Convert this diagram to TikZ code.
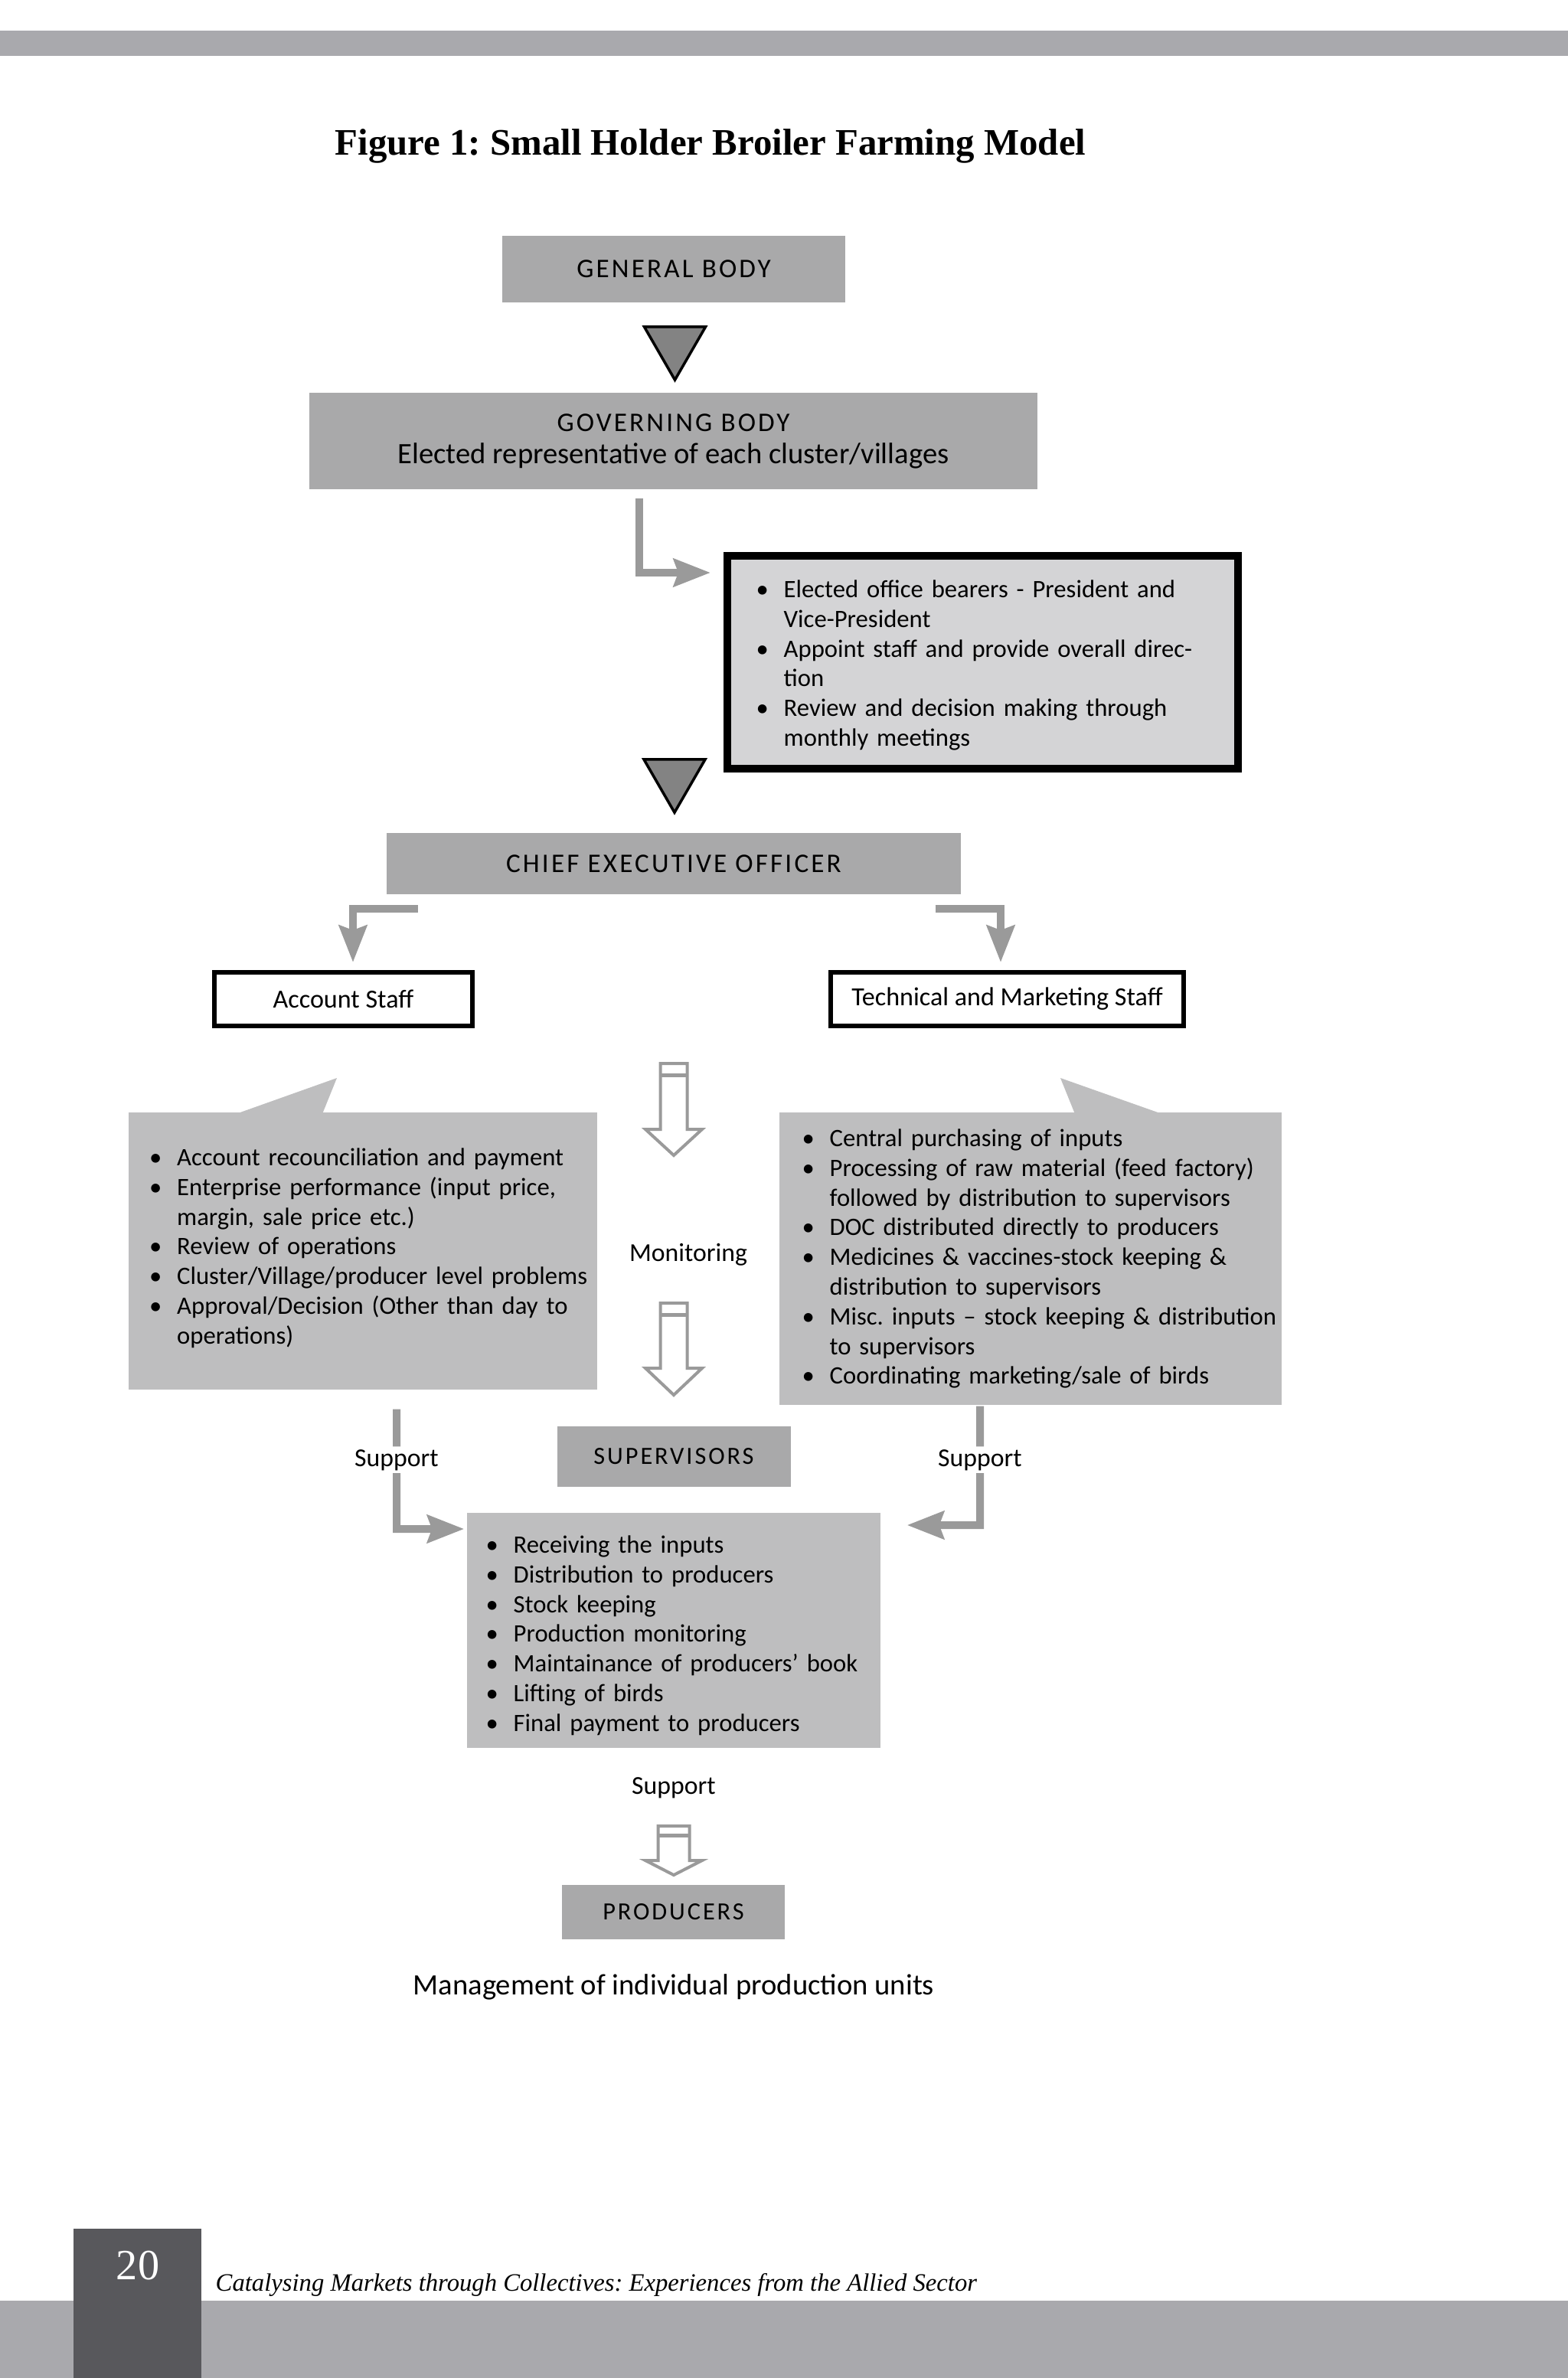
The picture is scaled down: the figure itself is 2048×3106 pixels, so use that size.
\documentclass[tikz,border=0pt]{standalone}
\usepackage{fontspec}
\setmainfont{Carlito}
\newfontfamily\capsfont[LetterSpace=9]{Carlito}
\newfontfamily\bookfont{Liberation Serif}
\usetikzlibrary{shapes.geometric, arrows.meta}

\definecolor{headgray}{HTML}{A9A9AA}
\definecolor{listgray}{HTML}{BEBEBF}
\definecolor{dutygray}{HTML}{D4D4D6}
\definecolor{linkgray}{HTML}{9A9A9A}
\definecolor{trigray}{HTML}{838383}
\definecolor{bandgray}{HTML}{A9A9AD}
\definecolor{pagegray}{HTML}{58585C}

% one bullet point, continuation lines hang under the text
\newcommand{\bitem}[1]{\noindent\hangindent=3.8mm\hangafter=1\makebox[3.8mm][l]{\hspace{1mm}\makebox[0pt]{\textbullet}}\strut#1\par}

\tikzset{
  headbox/.style={fill=headgray, inner sep=0pt, font=\capsfont\fontsize{10}{10.5}\selectfont},
  smallhead/.style={headbox, font=\capsfont\fontsize{9.2}{10}\selectfont},
  staffbox/.style={draw=black, line width=0.6mm, fill=white, inner sep=0pt, minimum height=7mm, font=\fontsize{9.7}{11}\selectfont},
  listbox/.style={fill=listgray, inner sep=0pt},
  listtext/.style={anchor=north west, inner sep=0pt, text width=6.5cm, align=left, font=\fontsize{9.3}{11.03}\selectfont},
  plain/.style={inner sep=0.3mm, font=\fontsize{9.6}{11}\selectfont},
  tri/.style={regular polygon, regular polygon sides=3, shape border rotate=180, minimum size=9.24mm, inner sep=0pt, fill=trigray, draw=black, line width=0.35mm},
  link/.style={draw=linkgray, line width=1mm, -{Stealth[length=4.8mm, width=3.6mm, inset=0.6mm]}},
  hollow/.style={draw=linkgray, line width=0.4mm, fill=white}
}

\begin{document}
\frenchspacing
\begin{tikzpicture}[x=0.1mm, y=-0.1mm]
  \useasboundingbox (0,0) rectangle (2048,3106);

  % page bands
  \fill[bandgray] (0,40) rectangle (2048,73);
  \fill[bandgray] (0,3005) rectangle (2048,3106);
  \fill[pagegray] (96,2911) rectangle (263,3106);

  \node[anchor=base west, inner sep=0pt, font=\bookfont\bfseries\fontsize{13.9}{16}\selectfont] (title) at (437,202) {Figure 1: Small Holder Broiler Farming Model};

  % Node positions
  \node[headbox, minimum width=44.8mm, minimum height=8.7mm] (genbody) at (880,351.5) {GENERAL BODY};
  \node[tri] (tri1) at (881.5,450) {};
  \node[headbox, minimum width=95.1mm, minimum height=12.6mm, align=center] (gov) at (879.5,576) {GOVERNING BODY\\[0.5mm]{\rmfamily\fontsize{11}{10.5}\selectfont Elected representative of each cluster/villages}};

  \node[draw=black, line width=1mm, fill=dutygray, minimum width=66.7mm, minimum height=27.8mm, inner sep=0pt] (duties) at (1283.5,865) {};
  \node[listtext] (dutiestext) at (985,752.8) {%
    \bitem{Elected office bearers - President and\newline Vice-President}
    \bitem{Appoint staff and provide overall direc-\newline tion}
    \bitem{Review and decision making through\newline monthly meetings}};

  \node[tri] (tri2) at (881,1015) {};
  \node[headbox, minimum width=75mm, minimum height=8mm] (ceo) at (880,1128) {CHIEF EXECUTIVE OFFICER};

  \node[staffbox, minimum width=33.7mm] (acct) at (448.5,1305) {Account Staff};
  \node[staffbox, minimum width=46.1mm] (tech) at (1315.5,1305) {Technical and Marketing Staff};

  % callouts
  \node[listbox, minimum width=61.2mm, minimum height=36.2mm] (acctcall) at (474,1634) {};
  \coordinate (acctpt) at (440,1408);
  \fill[listgray] (308,1455) -- (acctpt) -- (421,1455) -- cycle;
  \node[listtext] (accttext) at (192.5,1494.8) {%
    \bitem{Account recounciliation and payment}
    \bitem{Enterprise performance (input price,\newline margin, sale price etc.)}
    \bitem{Review of operations}
    \bitem{Cluster/Village/producer level problems}
    \bitem{Approval/Decision (Other than day to\newline operations)}};

  \node[listbox, minimum width=65.6mm, minimum height=38.2mm] (techcall) at (1346,1644) {};
  \coordinate (techpt) at (1385,1408);
  \fill[listgray] (1404,1455) -- (techpt) -- (1518,1455) -- cycle;
  \node[listtext] (techtext) at (1045,1469.8) {%
    \bitem{Central purchasing of inputs}
    \bitem{Processing of raw material (feed factory)\newline followed by distribution to supervisors}
    \bitem{DOC distributed directly to producers}
    \bitem{Medicines \& vaccines-stock keeping \&\newline distribution to supervisors}
    \bitem{Misc. inputs – stock keeping \& distribution\newline to supervisors}
    \bitem{Coordinating marketing/sale of birds}};

  \node[plain, anchor=base] (mon) at (899,1647) {Monitoring};

  \node[smallhead, minimum width=30.5mm, minimum height=7.9mm] (supbox) at (880,1902.5) {SUPERVISORS};
  \node[plain, anchor=base] (supL) at (518,1915) {Support};
  \node[plain, anchor=base] (supR) at (1280,1915) {Support};

  \node[listbox, minimum width=54mm, minimum height=30.7mm] (suplist) at (880,2129.5) {};
  \node[listtext] (suptext) at (632,2000.8) {%
    \bitem{Receiving the inputs}
    \bitem{Distribution to producers}
    \bitem{Stock keeping}
    \bitem{Production monitoring}
    \bitem{Maintainance of producers’ book}
    \bitem{Lifting of birds}
    \bitem{Final payment to producers}};

  \node[plain, anchor=base] (supB) at (880,2343) {Support};
  \node[smallhead, minimum width=29.1mm, minimum height=7.1mm] (prod) at (879.5,2497.5) {PRODUCERS};
  \node[plain, anchor=base, font=\fontsize{11}{12}\selectfont] (manage) at (880,2605) {Management of individual production units};

  % connectors
  \draw[link] ([xshift=-4.5mm, yshift=-1.1mm]gov.south) |- ([yshift=11.7mm, xshift=-1.7mm]duties.west);
  \draw[link] ([xshift=4.15mm, yshift=-1.8mm]ceo.south west) -| ([xshift=1.25mm, yshift=1mm]acct.north);
  \draw[link] ([xshift=-3.4mm, yshift=-1.8mm]ceo.south east) -| ([xshift=-0.85mm, yshift=1mm]tech.north);
  \draw[link] ([xshift=4.4mm, yshift=-2.5mm]acctcall.south) -- (supL) |- ([yshift=13.25mm, xshift=-0.3mm]suplist.west);
  \draw[link] ([xshift=-6.6mm, yshift=-0.1mm]techcall.south) -- (supR) |- ([yshift=13.75mm, xshift=3.4mm]suplist.east);

  % hollow arrows
  \foreach \ty/\sy/\hy/\w/\b in {1389/1475/1509/17.5/15, 1702/1787/1822/17.5/15, 2385/2430/2449/20.5/12} {
    \draw[hollow] (880-\w,\ty) -- (880+\w,\ty) -- (880+\w,\sy) -- (917,\sy) -- (880,\hy) -- (843,\sy) -- (880-\w,\sy) -- cycle;
    \draw[draw=linkgray, line width=0.5mm] (880-\w,\ty+\b) -- (880+\w,\ty+\b);
  }

  % footer
  \node[anchor=base, inner sep=0pt, text=white, font=\bookfont\fontsize{16}{16}\selectfont] (pgnum) at (180,2977) {20};
  \node[anchor=base west, inner sep=0pt, font=\bookfont\itshape\fontsize{9.3}{11}\selectfont] (footer) at (281,2992) {Catalysing Markets through Collectives: Experiences from the Allied Sector};
\end{tikzpicture}
\end{document}
